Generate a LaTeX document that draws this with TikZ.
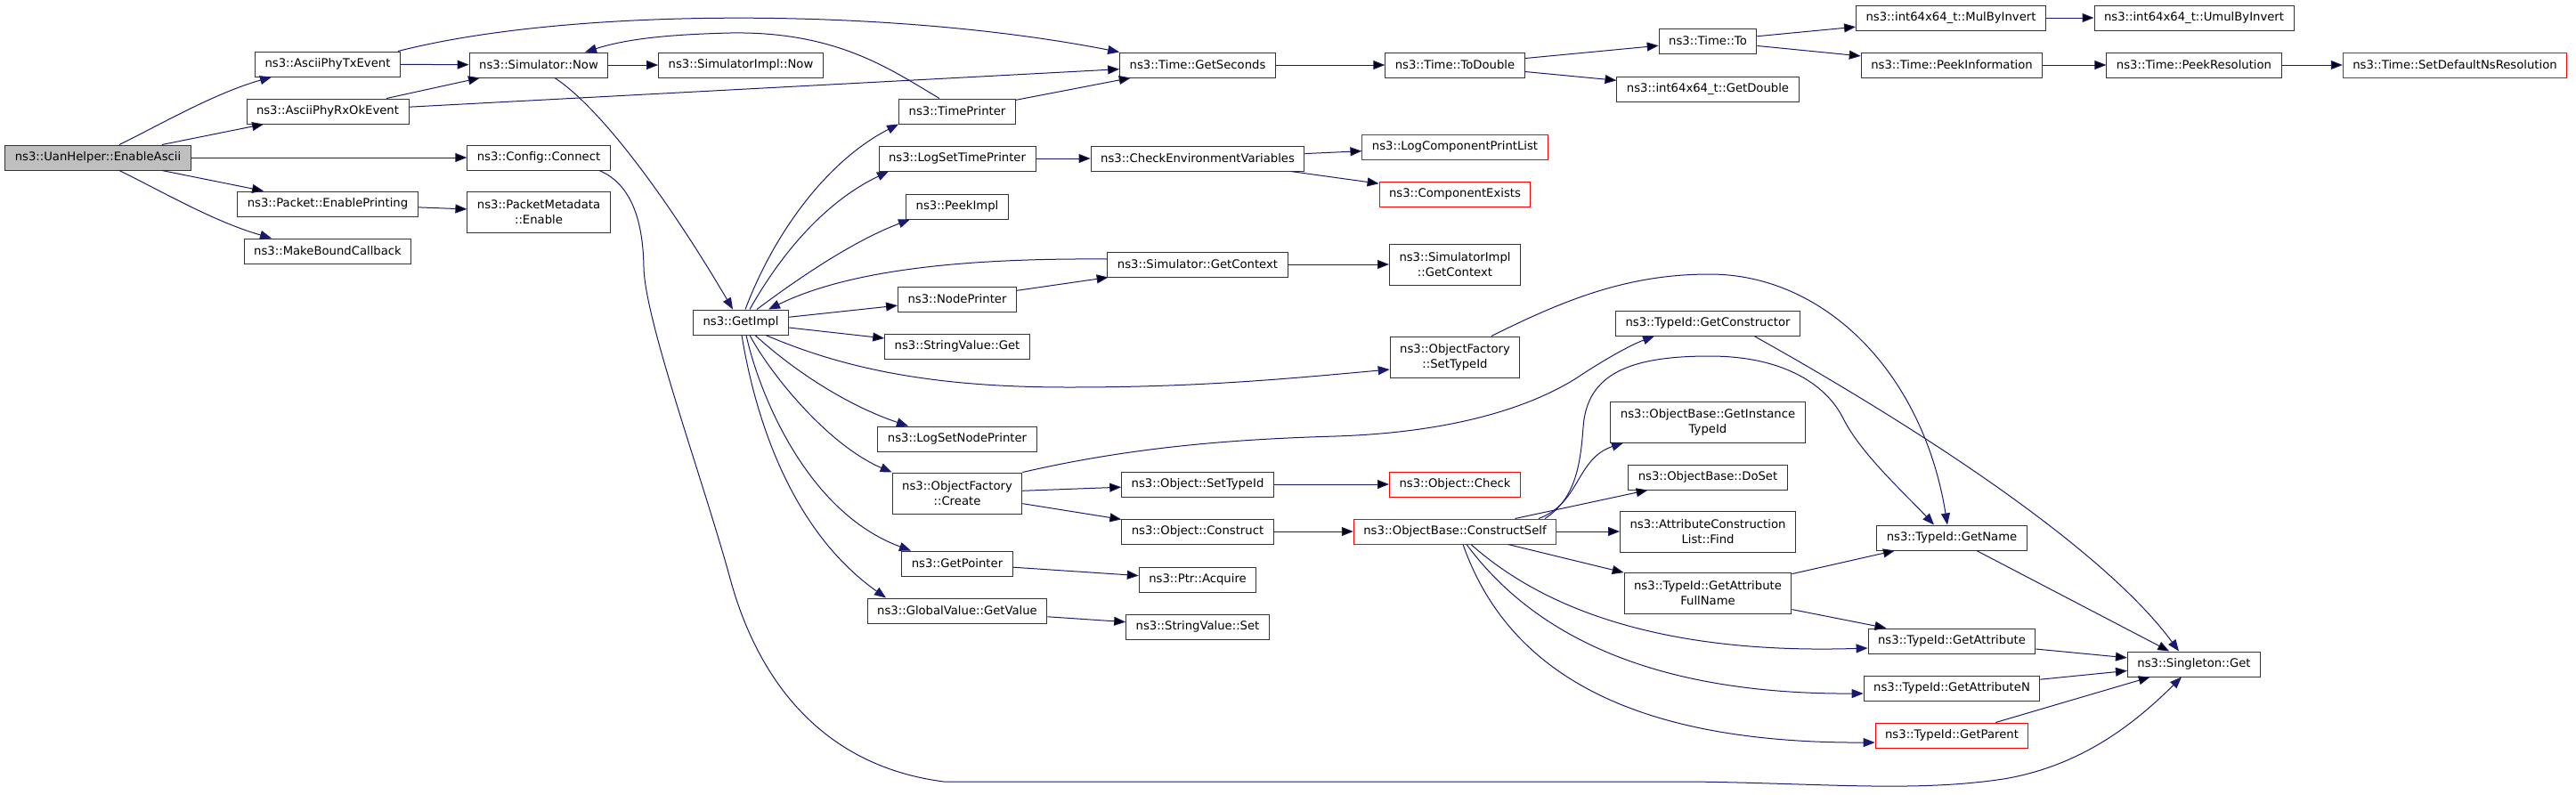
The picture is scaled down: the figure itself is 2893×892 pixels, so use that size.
\documentclass[tikz,border=0pt]{standalone}
\usepackage{fontspec}
\setmainfont{DejaVu Sans}
\usetikzlibrary{arrows.meta}
\definecolor{midnight}{HTML}{191970}

\begin{document}
\begin{tikzpicture}[x=1pt,y=1pt,->,>={Triangle[length=13pt,width=10pt]},
  fn node/.style={rectangle,draw=black!80,line width=1pt,align=center,
    font=\fontsize{13.2}{17}\selectfont,inner xsep=11pt,inner ysep=2pt,minimum height=28pt},
  two/.style={minimum height=46pt},
  red node/.style={fn node,draw=red},
  root node/.style={fn node,fill=black!25},
  call/.style={draw=midnight,line width=1pt}]

  \useasboundingbox (0,0) rectangle (2893,-892);

  \node[root node] (enable) at (110,-177) {ns3::UanHelper::EnableAscii};

  \node[fn node] (txev) at (368,-72) {ns3::AsciiPhyTxEvent};
  \node[fn node] (rxev) at (368,-125) {ns3::AsciiPhyRxOkEvent};
  \node[fn node] (pktprint) at (368,-229) {ns3::Packet::EnablePrinting};
  \node[fn node] (mkcb) at (368,-282) {ns3::MakeBoundCallback};

  \node[fn node] (simnow) at (605,-73) {ns3::Simulator::Now};
  \node[fn node] (connect) at (605,-177) {ns3::Config::Connect};
  \node[fn node,two] (pmeta) at (605,-238) {ns3::PacketMetadata\\::Enable};

  \node[fn node] (simimplnow) at (832,-73) {ns3::SimulatorImpl::Now};
  \node[fn node] (getimpl) at (832,-362) {ns3::GetImpl};

  \node[fn node] (tprint) at (1075,-125) {ns3::TimePrinter};
  \node[fn node] (logtp) at (1075,-178) {ns3::LogSetTimePrinter};
  \node[fn node] (peekimpl) at (1075,-232) {ns3::PeekImpl};
  \node[fn node] (nprint) at (1075,-336) {ns3::NodePrinter};
  \node[fn node] (svget) at (1075,-389) {ns3::StringValue::Get};
  \node[fn node] (lognp) at (1075,-493) {ns3::LogSetNodePrinter};
  \node[fn node,two] (ofcreate) at (1075,-554) {ns3::ObjectFactory\\::Create};
  \node[fn node] (getptr) at (1075,-633) {ns3::GetPointer};
  \node[fn node] (gvget) at (1075,-686) {ns3::GlobalValue::GetValue};

  \node[fn node] (getsec) at (1345,-73) {ns3::Time::GetSeconds};
  \node[fn node] (checkenv) at (1345,-178) {ns3::CheckEnvironmentVariables};
  \node[fn node] (getctx) at (1345,-297) {ns3::Simulator::GetContext};
  \node[fn node] (osettid) at (1345,-544) {ns3::Object::SetTypeId};
  \node[fn node] (oconstruct) at (1345,-597) {ns3::Object::Construct};
  \node[fn node] (acquire) at (1345,-651) {ns3::Ptr::Acquire};
  \node[fn node] (svset) at (1345,-704) {ns3::StringValue::Set};

  \node[fn node] (todouble) at (1634,-73) {ns3::Time::ToDouble};
  \node[red node] (logcpl) at (1634,-165) {ns3::LogComponentPrintList};
  \node[red node] (compexists) at (1634,-218) {ns3::ComponentExists};
  \node[fn node,two] (implctx) at (1634,-297) {ns3::SimulatorImpl\\::GetContext};
  \node[fn node,two] (ofsettid) at (1634,-401) {ns3::ObjectFactory\\::SetTypeId};
  \node[red node] (ocheck) at (1634,-544) {ns3::Object::Check};
  \node[red node] (cself) at (1634,-597) {ns3::ObjectBase::ConstructSelf};

  \node[fn node] (timeto) at (1918,-46) {ns3::Time::To};
  \node[fn node] (getdouble) at (1918,-100) {ns3::int64x64\_t::GetDouble};
  \node[fn node] (getctor) at (1918,-363) {ns3::TypeId::GetConstructor};
  \node[fn node,two] (getinst) at (1918,-474) {ns3::ObjectBase::GetInstance\\TypeId};
  \node[fn node] (doset) at (1918,-536) {ns3::ObjectBase::DoSet};
  \node[fn node,two] (aclfind) at (1918,-597) {ns3::AttributeConstruction\\List::Find};
  \node[fn node,two] (getafn) at (1918,-666) {ns3::TypeId::GetAttribute\\FullName};

  \node[fn node] (mulinv) at (2191,-20) {ns3::int64x64\_t::MulByInvert};
  \node[fn node] (peekinfo) at (2192,-73) {ns3::Time::PeekInformation};
  \node[fn node] (getname) at (2192,-604) {ns3::TypeId::GetName};
  \node[fn node] (getattr) at (2192,-720) {ns3::TypeId::GetAttribute};
  \node[fn node] (getattrn) at (2192,-773) {ns3::TypeId::GetAttributeN};
  \node[red node] (getparent) at (2192,-826) {ns3::TypeId::GetParent};

  \node[fn node] (umulinv) at (2464,-20) {ns3::int64x64\_t::UmulByInvert};
  \node[fn node] (peekres) at (2464,-73) {ns3::Time::PeekResolution};
  \node[fn node] (singleton) at (2464,-746) {ns3::Singleton::Get};

  \node[red node] (setres) at (2757,-73) {ns3::Time::SetDefaultNsResolution};

  \path[call]
    (enable) edge (rxev)
    (enable) edge (connect)
    (enable) edge (pktprint)
    (txev) edge (simnow)
    (rxev) edge (simnow)
    (rxev) edge (getsec)
    (pktprint) edge (pmeta)
    (simnow) edge (simimplnow)
    (tprint) edge (getsec)
    (getsec) edge (todouble)
    (todouble) edge (timeto)
    (todouble) edge (getdouble)
    (timeto) edge (mulinv)
    (timeto) edge (peekinfo)
    (mulinv) edge (umulinv)
    (peekinfo) edge (peekres)
    (peekres) edge (setres)
    (logtp) edge (checkenv)
    (checkenv) edge (logcpl)
    (checkenv) edge (compexists)
    (getimpl) edge (nprint)
    (getimpl) edge (svget)
    (nprint) edge (getctx)
    (getctx) edge (implctx)
    (ofcreate) edge (osettid)
    (ofcreate) edge (oconstruct)
    (osettid) edge (ocheck)
    (oconstruct) edge (cself)
    (getptr) edge (acquire)
    (gvget) edge (svset)
    (cself) edge (doset)
    (cself) edge (aclfind)
    (cself) edge (getafn)
    (getafn) edge (getname)
    (getafn) edge (getattr)
    (getname) edge (singleton)
    (getattr) edge (singleton)
    (getattrn) edge (singleton)
    (getparent) edge (singleton)
    ;

  \draw[call] ([xshift=24]enable.north) .. controls (180,-140) and (240,-105) .. ([xshift=-63]txev.south);
  \draw[call] ([xshift=24]enable.south) .. controls (180,-214) and (240,-249) .. ([xshift=-63]mkcb.north);
  \draw[call] ([xshift=79]txev.north) .. controls (640,-8) and (1000,-8) .. (getsec.north west);
  \draw[call] ([xshift=-20]tprint.north) .. controls (1000,-78) and (940,-35) .. (820,-37)
    .. controls (740,-39) and (700,-45) .. ([xshift=52]simnow.north);
  \draw[call] ([xshift=18]simnow.south) .. controls (680,-125) and (760,-240) .. ([xshift=-9]getimpl.north);
  \draw[call] ([xshift=68]connect.south) .. controls (705,-205) and (722,-240) .. (723,-300)
    .. controls (724,-360) and (790,-540) .. (820,-650)
    .. controls (850,-760) and (920,-860) .. (1060,-878) -- (1900,-878)
    .. controls (2050,-880) and (2150,-890) .. (2250,-875)
    .. controls (2340,-860) and (2400,-810) .. ([xshift=-14]singleton.south);

  \draw[call] ([yshift=6]getctx.west) .. controls (1100,-290) and (960,-300) .. ([xshift=31]getimpl.north);
  \draw[call] ([xshift=5]getimpl.north) .. controls (870,-260) and (930,-180) .. (tprint.south west);
  \draw[call] ([xshift=10]getimpl.north) .. controls (880,-280) and (930,-225) .. ([xshift=-77]logtp.south);
  \draw[call] ([xshift=18]getimpl.north) .. controls (900,-310) and (960,-270) .. ([xshift=-53]peekimpl.south);
  \draw[call] ([xshift=28]getimpl.south) .. controls (950,-415) and (1050,-435) .. (1200,-435)
    .. controls (1350,-435) and (1450,-425) .. ([yshift=-14]ofsettid.west);
  \draw[call] ([xshift=16]getimpl.south) .. controls (890,-415) and (950,-455) .. ([xshift=-55]lognp.north);
  \draw[call] ([xshift=10]getimpl.south) .. controls (865,-420) and (930,-500) .. (ofcreate.north west);
  \draw[call] ([xshift=6]getimpl.south) .. controls (852,-440) and (905,-575) .. ([xshift=-52]getptr.north);
  \draw[call] ([xshift=1]getimpl.south) .. controls (845,-450) and (880,-590) .. ([xshift=-80]gvget.north);

  \draw[call] ([xshift=41]ofsettid.north) .. controls (1760,-335) and (1830,-308) .. (1920,-308)
    .. controls (2050,-308) and (2160,-420) .. ([xshift=-5]getname.north);
  \draw[call] (ofcreate.north east) .. controls (1280,-500) and (1400,-493) .. (1500,-490)
    .. controls (1650,-485) and (1730,-450) .. (1770,-425)
    .. controls (1800,-405) and (1830,-388) .. ([xshift=-60]getctor.south);
  \draw[call] ([xshift=52]getctor.south) .. controls (2100,-450) and (2350,-600) .. ([xshift=-17]singleton.north);

  \draw[call] ([xshift=94]cself.north) .. controls (1775,-565) and (1770,-515) .. ([xshift=-95]getinst.south);
  \draw[call] ([xshift=101]cself.north) .. controls (1770,-560) and (1775,-520) .. (1778,-480)
    .. controls (1782,-420) and (1830,-400) .. (1920,-400)
    .. controls (2000,-400) and (2050,-430) .. (2070,-470)
    .. controls (2090,-510) and (2140,-555) .. ([xshift=-20]getname.north);
  \draw[call] ([xshift=18]cself.south) .. controls (1740,-690) and (1880,-735) .. ([yshift=-8]getattr.west);
  \draw[call] ([xshift=13]cself.south) .. controls (1720,-710) and (1850,-780) .. ([yshift=-6]getattrn.west);
  \draw[call] ([xshift=9]cself.south) .. controls (1695,-760) and (1840,-835) .. ([yshift=-8]getparent.west);
\end{tikzpicture}
\end{document}
